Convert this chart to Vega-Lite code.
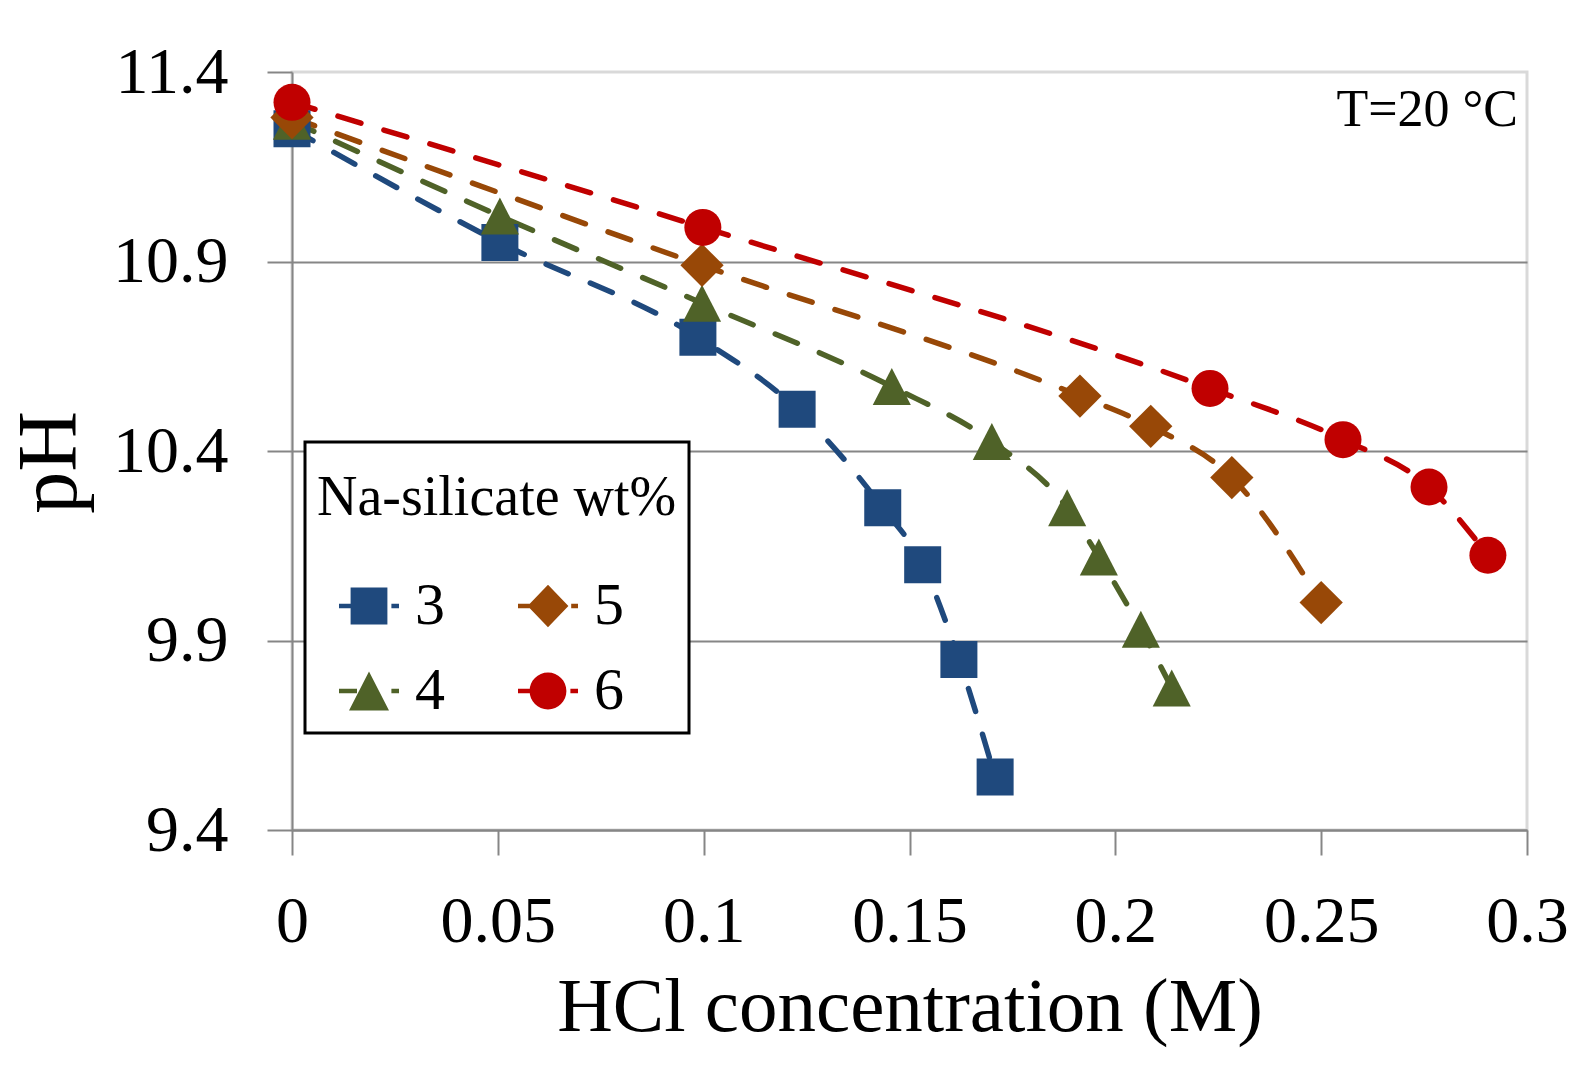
{
  "$schema": "https://vega.github.io/schema/vega-lite/v6.json",
  "width": 1235,
  "height": 758,
  "autosize": {"type": "none"},
  "padding": {"left": 292, "top": 72, "right": 60, "bottom": 239},
  "background": "white",
  "title": {
    "text": "T=20 °C",
    "orient": "top",
    "anchor": "end",
    "frame": "group",
    "baseline": "alphabetic",
    "offset": -53,
    "dx": -9,
    "dy": 86,
    "font": "Liberation Serif",
    "fontSize": 52,
    "fontWeight": "normal",
    "color": "black"
  },
  "config": {
    "font": "Liberation Serif",
    "view": {"stroke": "#D9D9D9", "strokeWidth": 3},
    "axis": {
      "labelFont": "Liberation Serif",
      "titleFont": "Liberation Serif",
      "labelColor": "black",
      "titleColor": "black",
      "titleFontWeight": "normal",
      "domainColor": "#868686",
      "domainWidth": 2,
      "tickColor": "#868686",
      "tickWidth": 2,
      "tickSize": 25
    }
  },
  "data": {
    "values": [
      {"wt": "3", "hcl": 0, "pH": 11.25},
      {"wt": "3", "hcl": 0.0505, "pH": 10.95},
      {"wt": "3", "hcl": 0.0986, "pH": 10.70},
      {"wt": "3", "hcl": 0.1227, "pH": 10.51},
      {"wt": "3", "hcl": 0.1435, "pH": 10.25},
      {"wt": "3", "hcl": 0.1532, "pH": 10.10},
      {"wt": "3", "hcl": 0.162, "pH": 9.85},
      {"wt": "3", "hcl": 0.1708, "pH": 9.54},
      {"wt": "4", "hcl": 0, "pH": 11.27},
      {"wt": "4", "hcl": 0.0505, "pH": 11.02},
      {"wt": "4", "hcl": 0.0996, "pH": 10.79},
      {"wt": "4", "hcl": 0.1457, "pH": 10.57},
      {"wt": "4", "hcl": 0.170, "pH": 10.425},
      {"wt": "4", "hcl": 0.1883, "pH": 10.25},
      {"wt": "4", "hcl": 0.196, "pH": 10.12},
      {"wt": "4", "hcl": 0.2062, "pH": 9.93},
      {"wt": "4", "hcl": 0.2137, "pH": 9.775},
      {"wt": "5", "hcl": 0, "pH": 11.28},
      {"wt": "5", "hcl": 0.0996, "pH": 10.89},
      {"wt": "5", "hcl": 0.1914, "pH": 10.545},
      {"wt": "5", "hcl": 0.2086, "pH": 10.465},
      {"wt": "5", "hcl": 0.2283, "pH": 10.33},
      {"wt": "5", "hcl": 0.25, "pH": 10.0},
      {"wt": "6", "hcl": 0, "pH": 11.32},
      {"wt": "6", "hcl": 0.0998, "pH": 10.99},
      {"wt": "6", "hcl": 0.223, "pH": 10.565},
      {"wt": "6", "hcl": 0.2553, "pH": 10.43},
      {"wt": "6", "hcl": 0.2762, "pH": 10.305},
      {"wt": "6", "hcl": 0.2905, "pH": 10.125}
    ]
  },
  "encoding": {
    "x": {
      "field": "hcl",
      "type": "quantitative",
      "scale": {"domain": [0, 0.3], "nice": false, "zero": false},
      "axis": {
        "values": [0, 0.05, 0.1, 0.15, 0.2, 0.25, 0.3],
        "format": "~g",
        "labelFontSize": 66,
        "labelPadding": 34,
        "labelFlush": false,
        "labelOverlap": false,
        "grid": false,
        "title": "HCl concentration (M)",
        "titleFontSize": 77,
        "titleBaseline": "alphabetic",
        "titleY": 200
      }
    },
    "y": {
      "field": "pH",
      "type": "quantitative",
      "scale": {"domain": [9.4, 11.4], "nice": false, "zero": false},
      "axis": {
        "values": [9.4, 9.9, 10.4, 10.9, 11.4],
        "format": ".1f",
        "labelFontSize": 66,
        "labelPadding": 39,
        "labelFlush": false,
        "labelOverlap": false,
        "grid": true,
        "gridWidth": 2,
        "gridColor": {"condition": {"test": "datum.value > 11.39", "value": "transparent"}, "value": "#868686"},
        "title": "pH",
        "titleFontSize": 84,
        "titleAngle": -90,
        "titleBaseline": "alphabetic",
        "titleX": -217,
        "titleY": 390
      }
    }
  },
  "layer": [
    {
      "mark": {"type": "line", "strokeDash": [24, 24], "strokeWidth": 5.5, "strokeCap": "round", "interpolate": "monotone"},
      "encoding": {
        "stroke": {"field": "wt", "type": "nominal", "scale": {"domain": ["3", "4", "5", "6"], "range": ["#1F497D", "#4F6228", "#984807", "#C00000"]}, "legend": null}
      }
    },
    {
      "transform": [{"filter": "datum.wt === '3'"}],
      "mark": {"type": "point", "filled": true, "opacity": 1, "strokeWidth": 0, "shape": "square", "size": 1369, "color": "#1F497D"}
    },
    {
      "transform": [{"filter": "datum.wt === '4'"}],
      "mark": {"type": "point", "filled": true, "opacity": 1, "strokeWidth": 0, "shape": "M0,-1L1.03,1L-1.03,1Z", "size": 1369, "color": "#4F6228"}
    },
    {
      "transform": [{"filter": "datum.wt === '5'"}],
      "mark": {"type": "point", "filled": true, "opacity": 1, "strokeWidth": 0, "shape": "M0,-1.17L1.17,0L0,1.17L-1.17,0Z", "size": 1369, "color": "#984807"}
    },
    {
      "transform": [{"filter": "datum.wt === '6'"}],
      "mark": {"type": "point", "filled": true, "opacity": 1, "strokeWidth": 0, "shape": "circle", "size": 1369, "color": "#C00000"}
    },
    {
      "mark": {"type": "point", "filled": true, "opacity": 0, "strokeWidth": 0, "size": 6400},
      "encoding": {
        "color": {
          "field": "wt",
          "type": "nominal",
          "scale": {"domain": ["3", "5", "4", "6"], "range": ["#1F497D", "#984807", "#4F6228", "#C00000"]},
          "legend": {
            "title": "Na-silicate wt%",
            "orient": "none",
            "direction": "horizontal",
            "legendX": 13,
            "legendY": 370,
            "columns": 2,
            "padding": 12,
            "strokeColor": "black",
            "fillColor": "white",
            "titleFont": "Liberation Serif",
            "titleFontSize": 56,
            "titleFontWeight": "normal",
            "titleColor": "black",
            "titlePadding": 56,
            "titleLimit": 1000,
            "labelFont": "Liberation Serif",
            "labelFontSize": 60,
            "labelColor": "black",
            "labelOffset": 6,
            "labelLimit": 300,
            "symbolSize": 6400,
            "symbolOffset": 8,
            "symbolStrokeWidth": 0,
            "symbolOpacity": 1,
            "columnPadding": 55,
            "rowPadding": 15,
            "encode": {
              "legend": {"update": {"stroke": {"value": "black"}, "strokeWidth": {"value": 3}, "fill": {"value": "white"}}},
              "title": {"update": {"dy": {"value": 17}, "dx": {"value": -4}}},
              "symbols": {"update": {"opacity": {"value": 1}}}
            }
          }
        },
        "shape": {
          "field": "wt",
          "type": "nominal",
          "scale": {
            "domain": ["3", "5", "4", "6"],
            "range": [
              "M-0.46,-0.46H0.46V0.46H-0.46Z M-0.75,-0.055H-0.46V0.055H-0.75Z M0.56,-0.055H0.75V0.055H0.56Z",
              "M0,-0.53L0.51,0L0,0.53L-0.51,0Z M-0.75,-0.055H-0.45V0.055H-0.75Z M0.58,-0.055H0.75V0.055H0.58Z",
              "M0,-0.49L0.5,0.49H-0.5Z M-0.75,-0.055H-0.3V0.055H-0.75Z M0.56,-0.055H0.75V0.055H0.56Z",
              "M0.46,0C0.46,0.254,0.254,0.46,0,0.46C-0.254,0.46,-0.46,0.254,-0.46,0C-0.46,-0.254,-0.254,-0.46,0,-0.46C0.254,-0.46,0.46,-0.254,0.46,0Z M-0.75,-0.055H-0.4V0.055H-0.75Z M0.56,-0.055H0.75V0.055H0.56Z"
            ]
          },
          "legend": {
            "title": "Na-silicate wt%",
            "orient": "none",
            "direction": "horizontal",
            "legendX": 13,
            "legendY": 370,
            "columns": 2,
            "padding": 12,
            "strokeColor": "black",
            "fillColor": "white",
            "titleFont": "Liberation Serif",
            "titleFontSize": 56,
            "titleFontWeight": "normal",
            "titleColor": "black",
            "titlePadding": 56,
            "titleLimit": 1000,
            "labelFont": "Liberation Serif",
            "labelFontSize": 60,
            "labelColor": "black",
            "labelOffset": 6,
            "labelLimit": 300,
            "symbolSize": 6400,
            "symbolOffset": 8,
            "symbolStrokeWidth": 0,
            "symbolOpacity": 1,
            "columnPadding": 55,
            "rowPadding": 15,
            "encode": {
              "legend": {"update": {"stroke": {"value": "black"}, "strokeWidth": {"value": 3}, "fill": {"value": "white"}}},
              "title": {"update": {"dy": {"value": 17}, "dx": {"value": -4}}},
              "symbols": {"update": {"opacity": {"value": 1}}}
            }
          }
        }
      }
    }
  ]
}
